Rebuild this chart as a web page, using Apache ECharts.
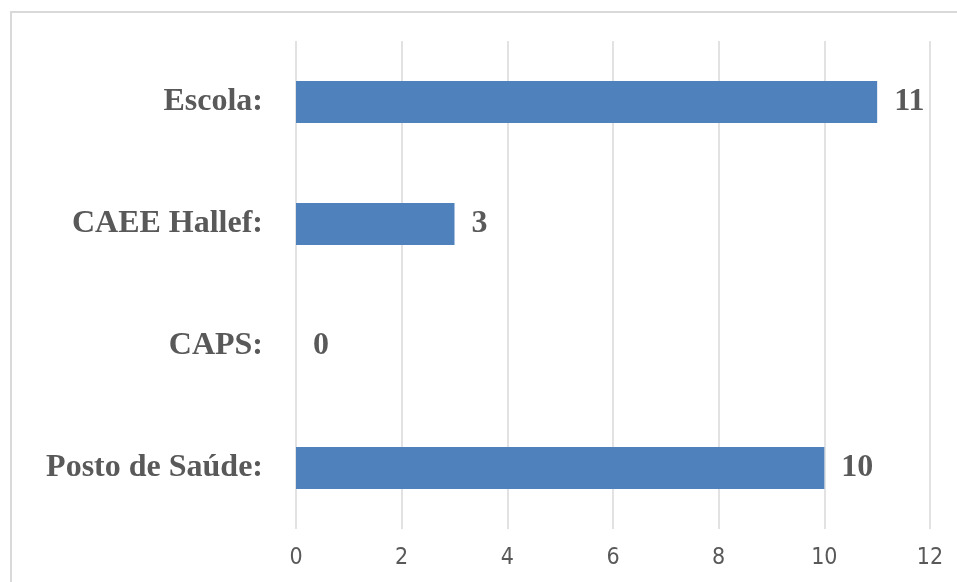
<!DOCTYPE html>
<html>
<head>
<meta charset="utf-8">
<script src="https://cdn.jsdelivr.net/npm/echarts@6/dist/echarts.min.js"></script>
<style>
  html, body { margin: 0; padding: 0; background: #fff; overflow: hidden; }
  #frame { position: absolute; left: 10px; top: 11px; width: 1000px; height: 1000px; border: 2px solid #d9d9d9; box-sizing: border-box; }
  #chart { position: absolute; left: 0; top: 0; width: 957px; height: 582px; }
</style>
</head>
<body>
<div id="frame"></div>
<div id="chart"></div>
<script>
const categories = ['Posto de Saúde:', 'CAPS:', 'CAEE Hallef:', 'Escola:'];
const values = [10, 0, 3, 11];
const xTicks = [0, 2, 4, 6, 8, 10, 12];

const chart = echarts.init(document.getElementById('chart'));
chart.setOption({
  animation: false,
  grid: { left: 296, right: 27, top: 41, bottom: 53, containLabel: false },
  xAxis: {
    type: 'value',
    min: xTicks[0],
    max: xTicks[xTicks.length - 1],
    interval: 2,
    axisLine: { show: false },
    axisTick: { show: false },
    splitLine: { show: true, lineStyle: { color: '#d9d9d9', width: 1.5 } },
    axisLabel: {
      margin: 18,
      color: '#595959',
      fontSize: 23,
      fontFamily: '"Liberation Sans Narrow", "DejaVu Sans Condensed", sans-serif'
    }
  },
  yAxis: {
    type: 'category',
    data: categories,
    axisLine: { show: false },
    axisTick: { show: false },
    axisLabel: {
      margin: 33,
      color: '#595959',
      fontSize: 32,
      fontWeight: 'bold',
      fontFamily: '"Liberation Serif", serif'
    }
  },
  series: [{
    type: 'bar',
    data: values,
    barWidth: 42,
    itemStyle: { color: '#4f81bd' },
    label: {
      show: true,
      position: 'right',
      distance: 17,
      color: '#595959',
      fontSize: 32,
      fontWeight: 'bold',
      fontFamily: '"Liberation Serif", serif'
    }
  }]
});
</script>
</body>
</html>
